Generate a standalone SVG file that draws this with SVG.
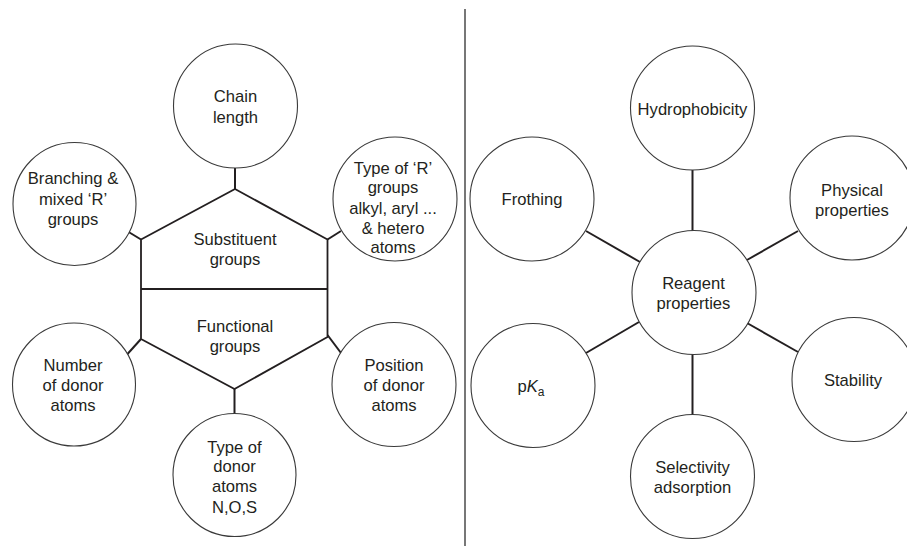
<svg xmlns="http://www.w3.org/2000/svg" width="907" height="546" viewBox="0 0 907 546">
<style>
  .node circle { fill: #ffffff; stroke: #3a3a3a; stroke-width: 1.1; }
  .conn line, .conn polyline { stroke: #231f20; stroke-width: 2; fill: none; }
  .hex { fill: #ffffff; stroke: #231f20; stroke-width: 1.8; stroke-linejoin: miter; }
  text { font-family: "Liberation Sans", Arial, sans-serif; font-size: 16.6px; fill: #231f20; text-anchor: middle; }
</style>
<rect x="0" y="0" width="907" height="546" fill="#ffffff"/>
<line x1="465" y1="9" x2="465" y2="546" stroke="#555555" stroke-width="1.6"/>

<g id="connectors" class="conn">
  <line x1="235" y1="168" x2="235" y2="189"/>
  <line x1="127" y1="231" x2="141" y2="239.5"/>
  <line x1="327.5" y1="239.5" x2="341" y2="231"/>
  <line x1="127.5" y1="354" x2="141" y2="339"/>
  <line x1="327.5" y1="335" x2="341" y2="353"/>
  <line x1="234.5" y1="389" x2="234.5" y2="414"/>
  <line x1="692.5" y1="170" x2="692.5" y2="231"/>
  <line x1="586" y1="231" x2="640" y2="262"/>
  <line x1="798" y1="231" x2="747" y2="260"/>
  <line x1="586" y1="353" x2="639" y2="322"/>
  <line x1="747" y1="323" x2="798" y2="352"/>
  <line x1="692.5" y1="354" x2="692.5" y2="415"/>
</g>

<g id="hexagon">
  <polygon class="hex" points="235,189 327.5,239.5 327.5,337 234.5,389 141,339 141,239.5"/>
  <line x1="141" y1="289" x2="327.5" y2="289" stroke="#231f20" stroke-width="1.8"/>
</g>

<g id="substituent-groups">
  <text x="235" y="245">Substituent</text>
  <text x="235" y="265">groups</text>
</g>
<g id="functional-groups">
  <text x="235" y="332">Functional</text>
  <text x="235" y="352">groups</text>
</g>

<g id="chain-length" class="node">
  <circle cx="235.5" cy="106" r="62"/>
  <text x="235.5" y="102">Chain</text>
  <text x="235.5" y="123">length</text>
</g>
<g id="branching" class="node">
  <circle cx="74.5" cy="204" r="61.5"/>
  <text x="73" y="184">Branching &amp;</text>
  <text x="73" y="205">mixed ‘R’</text>
  <text x="73" y="225">groups</text>
</g>
<g id="type-r" class="node">
  <circle cx="395" cy="199" r="62"/>
  <text x="393" y="174">Type of ‘R’</text>
  <text x="393" y="193">groups</text>
  <text x="393" y="214">alkyl, aryl ...</text>
  <text x="393" y="234">&amp; hetero</text>
  <text x="393" y="253">atoms</text>
</g>
<g id="number-donor" class="node">
  <circle cx="74" cy="384.5" r="61.5"/>
  <text x="73" y="371">Number</text>
  <text x="73" y="391">of donor</text>
  <text x="73" y="411">atoms</text>
</g>
<g id="position-donor" class="node">
  <circle cx="394" cy="384.5" r="62"/>
  <text x="394" y="371">Position</text>
  <text x="394" y="391">of donor</text>
  <text x="394" y="411">atoms</text>
</g>
<g id="type-donor" class="node">
  <circle cx="234.5" cy="475" r="61.5"/>
  <text x="234.5" y="453">Type of</text>
  <text x="234.5" y="472">donor</text>
  <text x="234.5" y="492">atoms</text>
  <text x="234.5" y="513">N,O,S</text>
</g>

<g id="hydrophobicity" class="node">
  <circle cx="692.5" cy="108" r="62"/>
  <text x="692.5" y="115">Hydrophobicity</text>
</g>
<g id="frothing" class="node">
  <circle cx="532" cy="199" r="62"/>
  <text x="532" y="205">Frothing</text>
</g>
<g id="physical-properties" class="node">
  <circle cx="852" cy="198" r="62"/>
  <text x="852" y="196">Physical</text>
  <text x="852" y="216">properties</text>
</g>
<g id="reagent-properties" class="node">
  <circle cx="694" cy="292.5" r="62"/>
  <text x="693.5" y="289">Reagent</text>
  <text x="693.5" y="309">properties</text>
</g>
<g id="pka" class="node">
  <circle cx="533" cy="385.5" r="62"/>
  <text x="531" y="392">p<tspan font-style="italic">K</tspan><tspan font-size="12" dy="4">a</tspan></text>
</g>
<g id="stability" class="node">
  <circle cx="854" cy="379.5" r="62"/>
  <text x="853" y="386">Stability</text>
</g>
<g id="selectivity" class="node">
  <circle cx="692.5" cy="476.5" r="62"/>
  <text x="692.5" y="473">Selectivity</text>
  <text x="692.5" y="493">adsorption</text>
</g>
</svg>
